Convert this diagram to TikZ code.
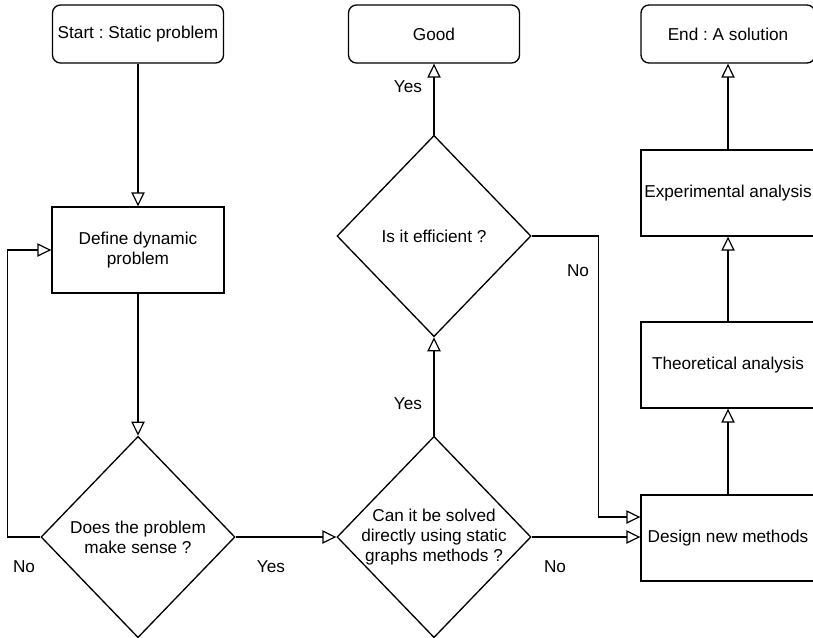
\documentclass[tikz,border=0pt]{standalone}
\usepackage{fontspec}
\setmainfont{Liberation Sans}
\frenchspacing
\usetikzlibrary{shapes.geometric,arrows.meta,positioning}

\begin{document}
\begin{tikzpicture}[
  x=0.75pt, y=-0.75pt,
  font=\fontsize{12.9pt}{15pt}\selectfont,
  box/.style={draw,line width=1pt,align=center,inner sep=2pt,minimum width=129pt,minimum height=64.5pt},
  term/.style={box,rounded corners=6pt,minimum width=128.25pt,minimum height=43.5pt},
  wide/.style={box,minimum width=130.5pt},
  cond/.style={draw,diamond,line width=1pt,align=center,inner xsep=-16pt,inner ysep=0pt,minimum width=145.5pt,minimum height=151pt},
  arr/.style={-{Triangle[open,length=10.5pt,width=10pt,line width=0.9pt]},line width=1pt},
  lbl/.style={inner sep=1pt},
]
\useasboundingbox (0,0) rectangle (813,637);
\clip (0,0) rectangle (813,637);

% terminals
\node[term] (start) at (138,34) {Start : Static problem};
\node[term] (good) at (434,34) {Good};
\node[term,minimum width=130.5pt] (end) at (728,34) {End : A solution};

% left column
\node[box] (define) at (138,250) {Define dynamic\\problem};
\node[cond] (sense) at (138,537) {Does the problem\\make sense ?};

% middle column
\node[cond] (solve) at (434,537) {Can it be solved\\directly using static\\graphs methods ?};
\node[cond] (effic) at (434,236) {Is it efficient ?};

% right column
\node[wide] (exper) at (728,193) {Experimental analysis};
\node[wide] (theo) at (728,365) {Theoretical analysis};
\node[wide] (design) at (728,538) {Design new methods};

% edge labels
\node[lbl] (noA) at (24,567) {No};
\node[lbl] (yesA) at (271,567) {Yes};
\node[lbl] (yesB) at (408,404) {Yes};
\node[lbl] (yesC) at (408,87) {Yes};
\node[lbl] (noB) at (578,271) {No};
\node[lbl] (noC) at (555,567) {No};

% flow
\draw[arr] (start) -- (define);
\draw[arr] (define) -- (sense);
\draw[arr] (sense.west) -- ++(-33,0) |- (define.west);
\draw[arr] (sense.east) -- (solve.west);
\draw[arr] (solve.north) -- (effic.south);
\draw[arr] (effic.north) -- (good.south);
\draw[arr] (effic.east) -- ++(67,0) |- ([yshift=15.75pt]design.west);
\draw[arr] (solve.east) -- (solve.east -| design.west);
\draw[arr] (design) -- (theo);
\draw[arr] (theo) -- (exper);
\draw[arr] (exper) -- (end);
\end{tikzpicture}
\end{document}
